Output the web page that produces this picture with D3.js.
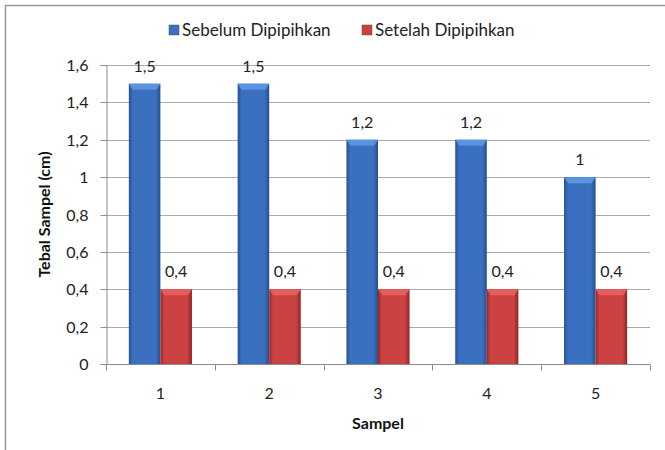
<!DOCTYPE html>
<html><head><meta charset="utf-8">
<script src="https://cdn.jsdelivr.net/npm/d3@7"></script>
<style>body{margin:0;background:#fff}svg{display:block;font-family:Lato,"Open Sans",sans-serif}</style>
</head><body><svg id="c" width="665" height="450"></svg>
<script>
const categories = ["1","2","3","4","5"];
const seriesNames = ["Sebelum Dipipihkan","Setelah Dipipihkan"];
const sebelum = [1.5,1.5,1.2,1.2,1];
const setelah = [0.4,0.4,0.4,0.4,0.4];
const yTicks = [0,0.2,0.4,0.6,0.8,1,1.2,1.4,1.6];
const yTitle = "Tebal Sampel (cm)";
const xTitle = "Sampel";

(function(){
const svg = d3.select("#c");
const loc = d3.formatLocale({decimal:",",thousands:".",grouping:[3],currency:["",""]});
const fmt = v => loc.format("~g")(v);

const pL=106,pR=650,pT=65,pB=364;
const x0 = d3.scaleBand().domain(categories).range([pL,pR]).paddingInner(0.42).paddingOuter(0.21);
const x1 = d3.scaleBand().domain(seriesNames).range([0,x0.bandwidth()]);
const y = d3.scaleLinear().domain([0,1.6]).range([pB,pT]);

svg.append("rect").attr("x",5.5).attr("y",5.5).attr("width",700).attr("height",500)
  .attr("fill","none").attr("stroke","#999").attr("stroke-width",1.5);

const defs = svg.append("defs");
function grad(id, edge, mid, edge2){
  const g = defs.append("linearGradient").attr("id",id).attr("x1","0").attr("x2","1").attr("y1","0").attr("y2","0");
  g.append("stop").attr("offset","0").attr("stop-color",edge);
  g.append("stop").attr("offset","0.12").attr("stop-color",mid);
  g.append("stop").attr("offset","0.85").attr("stop-color",mid);
  g.append("stop").attr("offset","1").attr("stop-color",edge2);
}
grad("gb","#24508f","#3a70bf","#25508c");
grad("gr","#962828","#cc4141","#8f2626");
const colors = {"Sebelum Dipipihkan":{fill:"url(#gb)",top:"#5e97e3",solid:"#3a70bf"},
                "Setelah Dipipihkan":{fill:"url(#gr)",top:"#e56262",solid:"#cc4141"}};

svg.append("g").selectAll("line").data(yTicks.slice(1)).join("line")
  .attr("x1",pL).attr("x2",pR).attr("y1",d=>Math.round(y(d))+0.5).attr("y2",d=>Math.round(y(d))+0.5)
  .attr("stroke","#ababab").attr("stroke-width",1);

const ya = svg.append("g").attr("transform",`translate(${pL+0.5},0)`)
  .call(d3.axisLeft(y).tickValues(yTicks).tickFormat(fmt).tickSize(6).tickPadding(12));
ya.select(".domain").attr("stroke","#8c8c8c");
ya.selectAll(".tick line").attr("stroke","#8c8c8c");
ya.selectAll("text").attr("font-size",16).attr("fill","#222").attr("font-family","Lato");
ya.selectAll(".tick").attr("transform",d=>`translate(0,${Math.round(y(d))+0.5})`);

const xa = svg.append("g").attr("transform",`translate(0,${pB+0.5})`);
xa.append("line").attr("x1",pL).attr("x2",pR).attr("stroke","#8c8c8c");
const bounds = categories.map(c=>x0(c)-x0.step()*0.21).concat([pR]);
xa.selectAll("line.t").data(bounds).join("line").attr("class","t")
  .attr("x1",d=>Math.round(d)+0.5).attr("x2",d=>Math.round(d)+0.5).attr("y1",0).attr("y2",6).attr("stroke","#8c8c8c");
xa.selectAll("text").data(categories).join("text")
  .attr("x",d=>x0(d)+x0.bandwidth()/2).attr("y",34).attr("text-anchor","middle")
  .attr("font-size",16).attr("fill","#222").text(d=>d);

const data = categories.map((c,i)=>({c, vals:[{s:seriesNames[0],v:sebelum[i]},{s:seriesNames[1],v:setelah[i]}]}));
const groups = svg.append("g").selectAll("g").data(data).join("g").attr("transform",d=>`translate(${x0(d.c)},0)`);
const bars = groups.selectAll("g").data(d=>d.vals).join("g");
bars.append("rect").attr("x",d=>x1(d.s)).attr("y",d=>y(d.v)).attr("width",x1.bandwidth()).attr("height",d=>pB-y(d.v))
  .attr("fill",d=>colors[d.s].fill);
bars.append("path").attr("d",d=>{
  const xa=x1(d.s), w=x1.bandwidth(), t=y(d.v);
  return `M${xa},${t}L${xa+w},${t}L${xa+w-4},${t+6}L${xa+4},${t+6}Z`;
}).attr("fill",d=>colors[d.s].top).attr("opacity",0.9);
bars.append("text").attr("x",d=>x1(d.s)+x1.bandwidth()/2).attr("y",d=>y(d.v)-12)
  .attr("text-anchor","middle").attr("font-size",16).attr("fill","#222").text(d=>fmt(d.v));

svg.append("text").attr("x",378).attr("y",429).attr("text-anchor","middle")
  .attr("font-size",16).attr("font-weight","bold").attr("fill","#111").text(xTitle);
svg.append("text").attr("transform",`translate(50,${(pT+pB)/2}) rotate(-90)`).attr("text-anchor","middle")
  .attr("font-size",16).attr("font-weight","bold").attr("fill","#111").text(yTitle);

const lg = svg.append("g");
const lx = [169,362];
seriesNames.forEach((s,i)=>{
  lg.append("rect").attr("x",lx[i]).attr("y",25).attr("width",10).attr("height",10).attr("fill",colors[s].solid).attr("stroke","#555").attr("stroke-width",0.5);
  lg.append("text").attr("x",lx[i]+13).attr("y",36).attr("font-size",17).attr("fill","#222").text(s);
});
})();
</script></body></html>
